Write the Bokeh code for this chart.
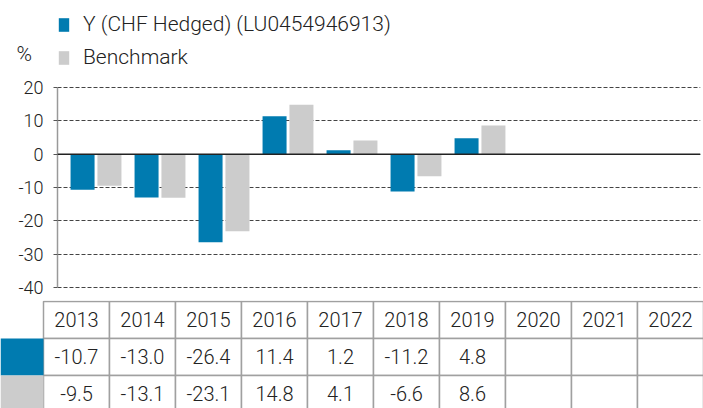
import numpy as np
from bokeh.plotting import figure
from bokeh.models import Range1d, Span, Legend, LegendItem, Label, ColumnDataSource, FixedTicker
from bokeh.embed import file_html
from bokeh.resources import INLINE
from bokeh.core.properties import value

# ---- data ----
years = ["2013", "2014", "2015", "2016", "2017", "2018", "2019", "2020", "2021", "2022"]
fund = [-10.7, -13.0, -26.4, 11.4, 1.2, -11.2, 4.8, None, None, None]
bench = [-9.5, -13.1, -23.1, 14.8, 4.1, -6.6, 8.6, None, None, None]
fund_label = "Y (CHF Hedged) (LU0454946913)"
bench_label = "Benchmark"
y_ticks = [-40, -30, -20, -10, 0, 10, 20]
unit_label = "%"

BLUE = "#007BB0"
GRAY = "#CCCCCC"
TXT = "#222222"
FONT = "Roboto Light"
FS = "18px"
LFS = "21px"

idx = np.arange(len(years))

def present(vals):
    xs = [i for i, v in enumerate(vals) if v is not None]
    return xs, [vals[i] for i in xs]

fx, fv = present(fund)
bx, bv = present(bench)

# ---- header (legend + unit) ----
h = figure(width=703, height=78, x_range=Range1d(0, 1), y_range=Range1d(0, 1),
           output_backend="svg", toolbar_location=None, min_border=0)
h.outline_line_color = None
h.axis.visible = False
h.grid.visible = False
# legend-key renderers (zero height, so only their style shows, in the legend)
d1 = h.vbar(x=[0.5], top=[0], bottom=0, width=0, fill_color=BLUE, line_color=None)
d2 = h.vbar(x=[0.5], top=[0], bottom=0, width=0, fill_color=GRAY, line_color=None)
legend = Legend(items=[LegendItem(label=fund_label, renderers=[d1]),
                       LegendItem(label=bench_label, renderers=[d2])],
                location=(57, 9), orientation="vertical",
                glyph_width=13, glyph_height=17, label_height=20, spacing=9,
                label_standoff=13, padding=0, margin=0,
                border_line_color=None, background_fill_alpha=0,
                label_text_font=FONT, label_text_font_size=LFS, label_text_color=TXT)
h.add_layout(legend)
h.add_layout(Label(x=16, y=13, x_units="screen", y_units="screen", text=unit_label,
                   text_font=FONT, text_font_size=LFS, text_color=TXT))

# ---- chart ----
p = figure(width=703, height=222, x_range=Range1d(-0.6016, 9.4453),
           y_range=Range1d(-40.3, 20.3), output_backend="svg", toolbar_location=None,
           min_border_left=57, min_border_right=3, min_border_top=8, min_border_bottom=12)
p.outline_line_color = None
p.xaxis.visible = False
p.xgrid.visible = False
p.ygrid.grid_line_color = "#444444"
p.ygrid.grid_line_dash = "4 2"
p.ygrid.grid_line_width = 1
p.yaxis.ticker = FixedTicker(ticks=y_ticks)
p.yaxis.major_label_overrides = {t: str(t) for t in y_ticks}
p.yaxis.axis_line_color = "#999999"
p.yaxis.axis_line_width = 1.5
p.yaxis.major_tick_line_color = "#555555"
p.yaxis.major_tick_out = 4
p.yaxis.major_tick_in = 0
p.yaxis.minor_tick_line_color = None
p.yaxis.major_label_standoff = 10
p.yaxis.major_label_text_font = FONT
p.yaxis.major_label_text_font_size = FS
p.yaxis.major_label_text_color = TXT
p.ygrid.bounds = (-40, 20)
p.yaxis.bounds = (-40, 20)

src_f = ColumnDataSource(dict(x=[i - 0.21 for i in fx], top=fv))
src_b = ColumnDataSource(dict(x=[i + 0.21 for i in bx], top=bv))
p.vbar(x="x", top="top", bottom=0, width=0.375, source=src_f, fill_color=BLUE, line_color=None)
p.vbar(x="x", top="top", bottom=0, width=0.375, source=src_b, fill_color=GRAY, line_color=None)
p.add_layout(Span(location=0, dimension="width", line_color="#222222", line_width=1.5))

# ---- table ----
cw = 43 / 66.0
t = figure(width=703, height=108, x_range=Range1d(-cw, 10), y_range=Range1d(0.108, 3.027),
           output_backend="svg", toolbar_location=None, min_border=0)
t.outline_line_color = None
t.axis.visible = False
t.grid.visible = False

cells_x, cells_y = [], []
for i in idx:
    for row in (2.5, 1.5, 0.5):
        cells_x.append(i + 0.5)
        cells_y.append(row)
t.rect(x=cells_x, y=cells_y, width=1, height=1, fill_color="white",
       line_color="#A0A0A0", line_width=1.5)
t.rect(x=[-cw / 2, -cw / 2], y=[1.5, 0.5], width=cw, height=1,
       fill_color=[BLUE, GRAY], line_color=None)

TFS = "20px"
t.text(x=idx + 0.5, y=[2.5] * len(years), text=years, text_align="center",
       text_baseline="middle", text_font=value(FONT), text_font_size=TFS, text_color=TXT)
t.text(x=[i + 0.5 for i in fx], y=[1.5] * len(fx), text=["%.1f" % v for v in fv],
       text_align="center", text_baseline="middle", text_font=value(FONT),
       text_font_size=TFS, text_color=TXT)
t.text(x=[i + 0.5 for i in bx], y=[0.5] * len(bx), text=["%.1f" % v for v in bv],
       text_align="center", text_baseline="middle", text_font=value(FONT),
       text_font_size=TFS, text_color=TXT)

open("out.html", "w").write(file_html([h, p, t], INLINE))
